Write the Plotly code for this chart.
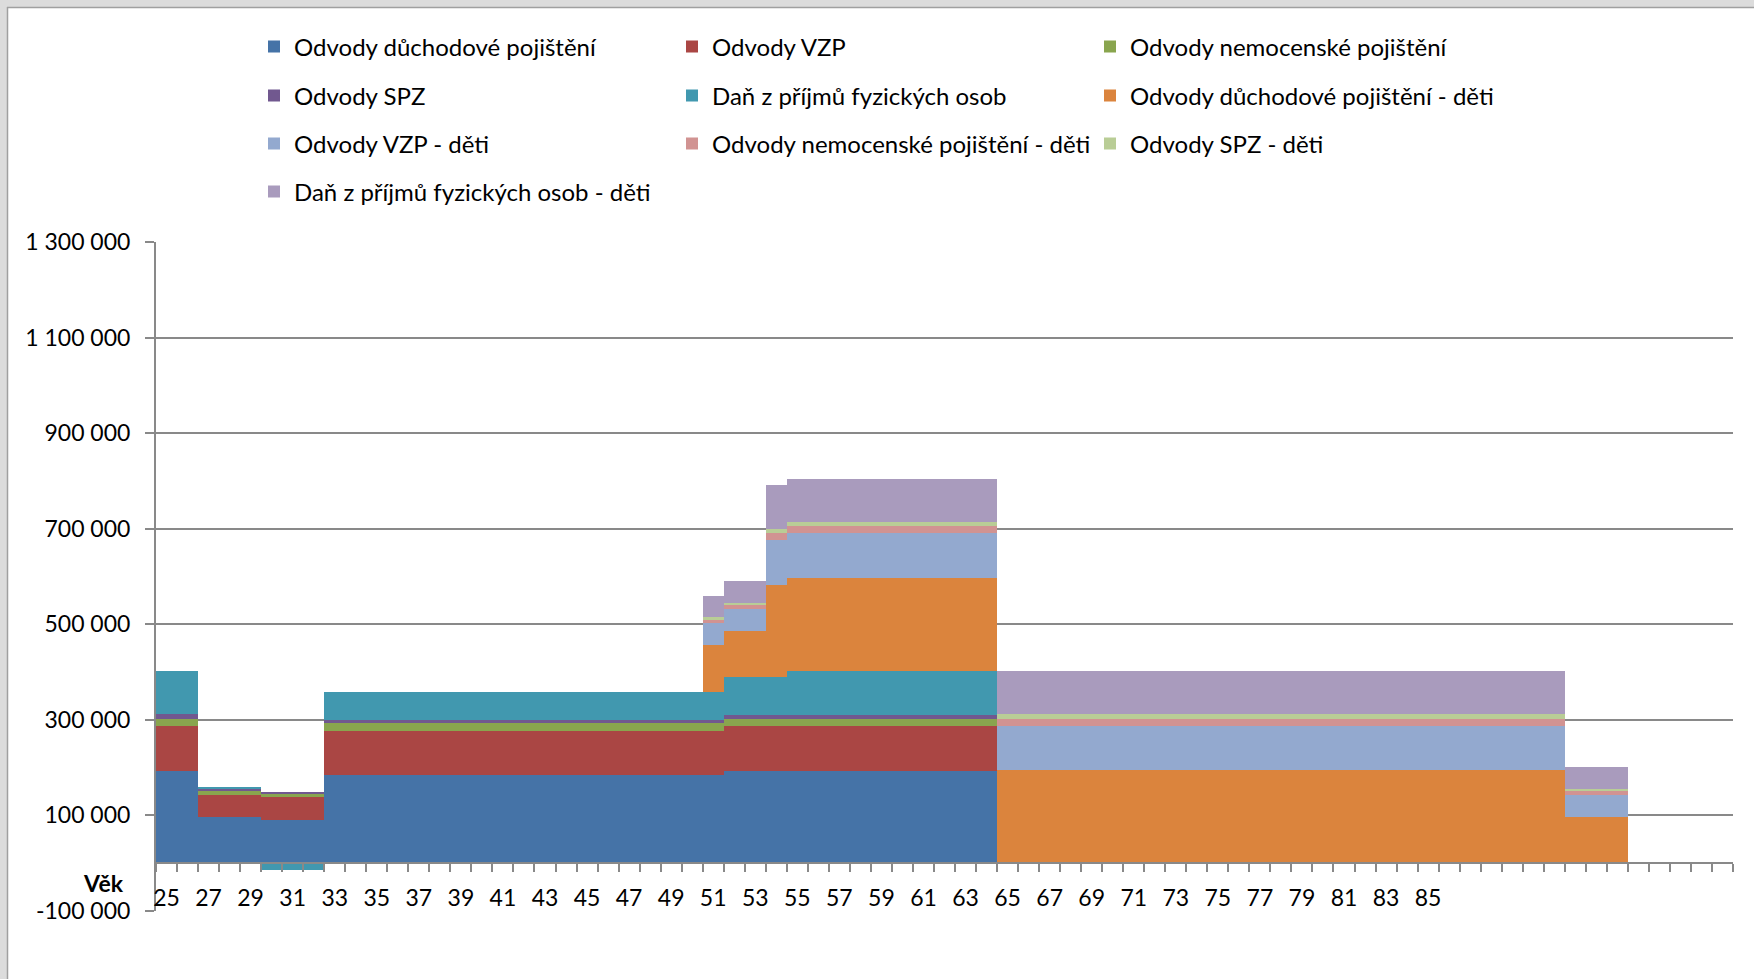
import plotly.graph_objects as go

# ---------------- data ----------------
ages = list(range(25, 100))          # categories (Věk)
tick_labels = [str(a) for a in range(25, 86, 2)]   # labelled categories 25..85

# age blocks: 25-26 | 27-29 | 30-32 | 33-50 | 51 | 52-53 | 54 | 55-64 | 65-91 | 92-94 | 95-99
duchodove = [194000]*2 + [96700]*3 + [91100]*3 + [183600]*18 + [183600]*1 + [192400]*2 + [192400]*1 + [192400]*10 + [0]*27 + [0]*3 + [0]*5
vzp       = [93300]*2 + [46300]*3 + [47000]*3 + [94000]*18 + [94000]*1 + [94100]*2 + [94100]*1 + [94100]*10 + [0]*27 + [0]*3 + [0]*5
nemoc     = [15400]*2 + [8400]*3 + [7700]*3 + [15400]*18 + [15400]*1 + [15600]*2 + [15600]*1 + [15600]*10 + [0]*27 + [0]*3 + [0]*5
spz       = [9000]*2 + [4200]*3 + [3500]*3 + [7000]*18 + [7000]*1 + [8300]*2 + [8300]*1 + [8300]*10 + [0]*27 + [0]*3 + [0]*5
dan       = [90400]*2 + [4900]*3 + [-13500]*3 + [58200]*18 + [58200]*1 + [78500]*2 + [78500]*1 + [91800]*10 + [0]*27 + [0]*3 + [0]*5
duchodove_d = [0]*2 + [0]*3 + [0]*3 + [0]*18 + [97900]*1 + [96500]*2 + [193700]*1 + [193700]*10 + [194200]*27 + [96700]*3 + [0]*5
vzp_d       = [0]*2 + [0]*3 + [0]*3 + [0]*18 + [46200]*1 + [47600]*2 + [93700]*1 + [94400]*10 + [93200]*27 + [46300]*3 + [0]*5
nemoc_d     = [0]*2 + [0]*3 + [0]*3 + [0]*18 + [7600]*1 + [7700]*2 + [14700]*1 + [14700]*10 + [14700]*27 + [8400]*3 + [0]*5
spz_d       = [0]*2 + [0]*3 + [0]*3 + [0]*18 + [5700]*1 + [4200]*2 + [8400]*1 + [9800]*10 + [9800]*27 + [4200]*3 + [0]*5
dan_d       = [0]*2 + [0]*3 + [0]*3 + [0]*18 + [44000]*1 + [44700]*2 + [91600]*1 + [88800]*10 + [90400]*27 + [44900]*3 + [0]*5

y_ticks = [-100000, 100000, 300000, 500000, 700000, 900000, 1100000, 1300000]
y_tick_labels = ["-100 000", "100 000", "300 000", "500 000", "700 000", "900 000", "1 100 000", "1 300 000"]

series = [
    ("Odvody důchodové pojištění", duchodove, "#4573A7", "legend"),
    ("Odvody VZP", vzp, "#AA4644", "legend"),
    ("Odvody nemocenské pojištění", nemoc, "#89A54E", "legend"),
    ("Odvody SPZ", spz, "#71588F", "legend2"),
    ("Daň z příjmů fyzických osob", dan, "#4198AF", "legend2"),
    ("Odvody důchodové pojištění - děti", duchodove_d, "#DB843D", "legend2"),
    ("Odvody VZP - děti", vzp_d, "#93A9CF", "legend3"),
    ("Odvody nemocenské pojištění - děti", nemoc_d, "#D19392", "legend3"),
    ("Odvody SPZ - děti", spz_d, "#B9CD96", "legend3"),
    ("Daň z příjmů fyzických osob - děti", dan_d, "#A99BBD", "legend4"),
]

# ---------------- figure ----------------
W, H = 1754, 979
ML, MR, MT, MB = 156, 21, 242, 68
PW, PH = W - ML - MR, H - MT - MB

def px(xp):
    return (xp - ML) / PW

def py(yp):
    return (H - MB - yp) / PH

FONT = "Lato"
GRID = "#898989"

fig = go.Figure()
for name, vals, color, leg in series:
    fig.add_trace(go.Bar(
        x=ages, y=vals, name=name, legend=leg,
        marker=dict(color=color, line=dict(width=0)),
    ))

legend_common = dict(
    orientation="h", entrywidth=373, entrywidthmode="pixels",
    x=px(254), xanchor="left", yanchor="middle",
    font=dict(family=FONT, size=24, color="black"),
    bgcolor="rgba(0,0,0,0)", borderwidth=0, traceorder="normal",
)

fig.update_layout(
    width=W, height=H,
    margin=dict(l=ML, r=MR, t=MT, b=MB, pad=0),
    paper_bgcolor="white", plot_bgcolor="white",
    barmode="relative", bargap=0,
    font=dict(family=FONT, size=23, color="black"),
    legend=dict(**legend_common, y=py(47)),
    legend2=dict(**legend_common, y=py(96)),
    legend3=dict(**legend_common, y=py(144)),
    legend4=dict(**legend_common, y=py(192)),
    xaxis=dict(
        range=[24.5, 99.5], tickmode="array",
        tickvals=[int(t) for t in tick_labels], ticktext=tick_labels,
        ticks="", showline=True, linecolor=GRID, linewidth=2,
        anchor="free", position=100000 / 1400000,
        showgrid=False, zeroline=False,
        tickfont=dict(family=FONT, size=23, color="black"),
        ticklabelstandoff=14,
        minor=dict(tickmode="linear", tick0=24.5, dtick=1, ticks="outside",
                   ticklen=8, tickcolor=GRID, tickwidth=1.5, showgrid=False),
    ),
    yaxis=dict(
        range=[-100000, 1300000], tickmode="array",
        tickvals=y_ticks, ticktext=y_tick_labels,
        ticks="outside", ticklen=9, tickcolor=GRID, tickwidth=1.5,
        showline=True, linecolor=GRID, linewidth=2,
        showgrid=True, gridcolor=GRID, gridwidth=2, zeroline=False,
        tickfont=dict(family=FONT, size=23, color="black"),
        ticklabelstandoff=10,
    ),
    annotations=[dict(
        text="<b>Věk</b>", xref="paper", yref="paper",
        x=px(126), y=py(883), xanchor="right", yanchor="middle",
        showarrow=False, font=dict(family=FONT, size=23, color="black"),
    )],
    shapes=[
        dict(type="rect", xref="paper", yref="paper", x0=px(0), x1=px(W), y0=py(0), y1=py(7),
             fillcolor="#DCDCDC", line=dict(width=0), layer="above"),
        dict(type="rect", xref="paper", yref="paper", x0=px(0), x1=px(7), y0=py(0), y1=py(H),
             fillcolor="#DCDCDC", line=dict(width=0), layer="above"),
        dict(type="line", xref="paper", yref="paper", x0=px(7), x1=px(W), y0=py(7.5), y1=py(7.5),
             line=dict(color="#A0A0A0", width=1.5), layer="above"),
        dict(type="line", xref="paper", yref="paper", x0=px(7.5), x1=px(7.5), y0=py(7), y1=py(H),
             line=dict(color="#A0A0A0", width=1.5), layer="above"),
    ],
)

fig.write_html("out.html", config={"displayModeBar": False},
               post_script="document.body.style.margin='0';")
